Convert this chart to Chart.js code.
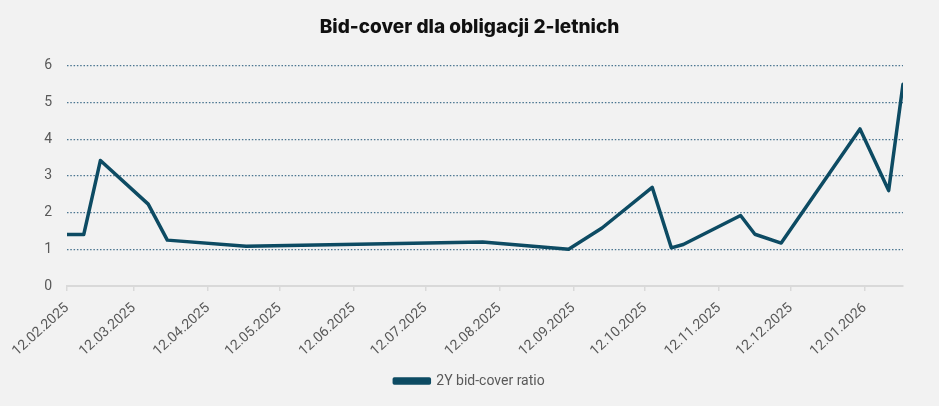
<!DOCTYPE html>
<html>
<head>
<meta charset="utf-8">
<script src="https://cdn.jsdelivr.net/npm/chart.js@4.4.1/dist/chart.umd.min.js"></script>
<style>
  html, body { margin: 0; padding: 0; background: #f2f2f2; }
  #wrap { width: 939px; height: 406px; position: relative; }
</style>
</head>
<body>
<div id="wrap"><canvas id="bidCoverChart"></canvas></div>
<script>
// auction dates and bid-cover ratios
const auctionDates = [
  '12.02.2025', '19.02.2025', '26.02.2025', '18.03.2025', '26.03.2025',
  '28.04.2025', '05.08.2025', '10.09.2025', '24.09.2025', '15.10.2025',
  '23.10.2025', '28.10.2025', '21.11.2025', '27.11.2025', '08.12.2025',
  '10.01.2026', '22.01.2026', '28.01.2026'
];
const bidCover = [
  1.40, 1.40, 3.42, 2.23, 1.25,
  1.08, 1.20, 1.00, 1.58, 2.69,
  1.04, 1.13, 1.92, 1.41, 1.17,
  4.28, 2.60, 5.50
];
// x axis tick labels
const tickDates = [
  '12.02.2025', '12.03.2025', '12.04.2025', '12.05.2025', '12.06.2025', '12.07.2025',
  '12.08.2025', '12.09.2025', '12.10.2025', '12.11.2025', '12.12.2025', '12.01.2026'
];
const seriesLabel = '2Y bid-cover ratio';

// dd.mm.yyyy -> day number
function toDay(s) {
  const [d, m, y] = s.split('.').map(Number);
  return Date.UTC(y, m - 1, d) / 86400000;
}
function fromDay(n) {
  const dt = new Date(n * 86400000);
  const dd = String(dt.getUTCDate()).padStart(2, '0');
  const mm = String(dt.getUTCMonth() + 1).padStart(2, '0');
  return dd + '.' + mm + '.' + dt.getUTCFullYear();
}

const points = auctionDates.map((d, i) => ({ x: toDay(d), y: bidCover[i] }));
const lineColor = '#0d4b63';
const labelColor = '#595959';

const ctx = document.getElementById('bidCoverChart').getContext('2d');
new Chart(ctx, {
  type: 'line',
  data: {
    datasets: [{
      label: seriesLabel,
      data: points,
      borderColor: lineColor,
      backgroundColor: lineColor,
      borderWidth: 3.5,
      borderJoinStyle: 'round',
      borderCapStyle: 'round',
      pointRadius: 0,
      tension: 0
    }]
  },
  options: {
    responsive: true,
    maintainAspectRatio: false,
    animation: false,
    layout: { padding: { left: 36, right: 36, top: 0, bottom: 8 } },
    plugins: {
      title: {
        display: true,
        text: 'Bid-cover dla obligacji 2-letnich',
        color: '#111',
        font: { family: 'Inter', size: 19, weight: 800 },
        padding: { top: 16, bottom: 27 }
      },
      legend: {
        position: 'bottom',
        labels: {
          boxWidth: 35,
          boxHeight: 4,
          padding: 10,
          color: labelColor,
          font: { family: 'Roboto', size: 14 }
        }
      },
      tooltip: { enabled: false }
    },
    scales: {
      x: {
        type: 'linear',
        min: toDay(auctionDates[0]),
        max: toDay(auctionDates[auctionDates.length - 1]),
        afterBuildTicks: scale => {
          scale.ticks = tickDates.map(d => ({ value: toDay(d) }));
        },
        afterFit: scale => { scale.height = 78; },
        grid: {
          drawOnChartArea: false,
          drawTicks: true,
          tickLength: 5,
          color: '#d9d9d9',
          lineWidth: 1.5
        },
        border: { display: true, color: '#d9d9d9', width: 2 },
        ticks: {
          autoSkip: false,
          minRotation: 42,
          maxRotation: 42,
          padding: 9,
          color: labelColor,
          font: { family: 'Roboto', size: 14 },
          callback: value => fromDay(value)
        }
      },
      y: {
        min: 0,
        max: 6,
        afterFit: scale => { scale.width = 31; },
        grid: {
          drawTicks: false,
          lineWidth: 1.3,
          color: c => (c.tick && c.tick.value === 0) ? 'rgba(0,0,0,0)' : '#4a7590'
        },
        border: { display: false, dash: [1.5, 1.8] },
        ticks: {
          stepSize: 1,
          padding: 15,
          color: labelColor,
          font: { family: 'Roboto', size: 14 }
        }
      }
    }
  }
});
</script>
</body>
</html>
